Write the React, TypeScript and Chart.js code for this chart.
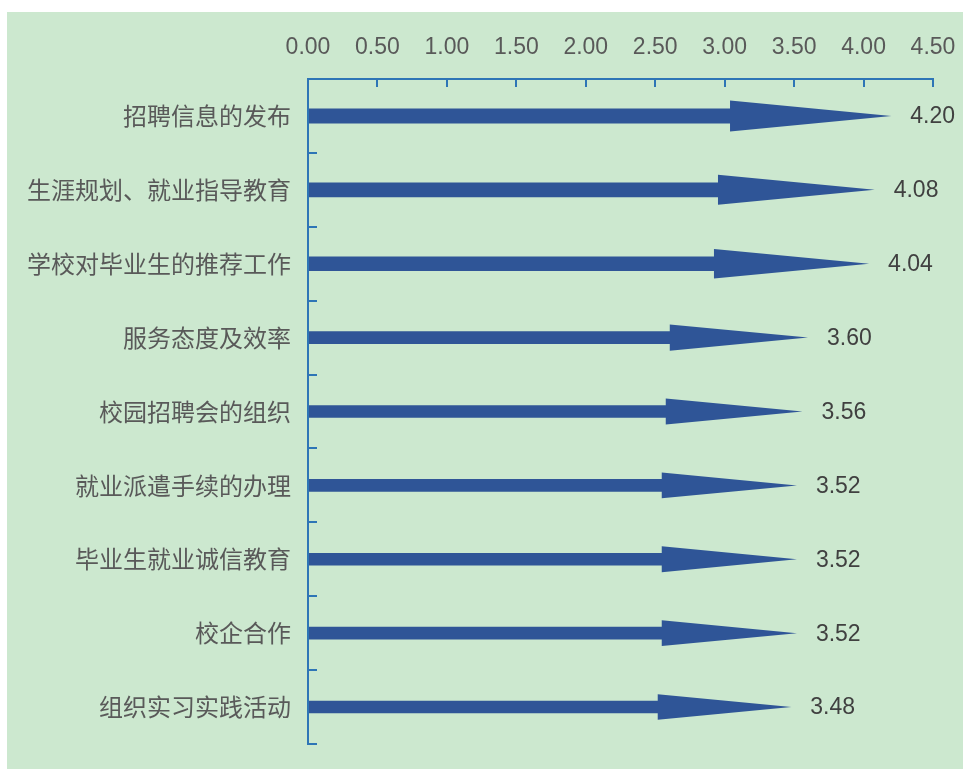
import React, { useEffect, useRef } from "react";
import { Chart, registerables } from "chart.js";

Chart.register(...registerables);

const categories: string[] = [
  "招聘信息的发布",
  "生涯规划、就业指导教育",
  "学校对毕业生的推荐工作",
  "服务态度及效率",
  "校园招聘会的组织",
  "就业派遣手续的办理",
  "毕业生就业诚信教育",
  "校企合作",
  "组织实习实践活动",
];
const scores: number[] = [4.2, 4.08, 4.04, 3.6, 3.56, 3.52, 3.52, 3.52, 3.48];
const xMin = 0;
const xMax = 4.5;
const xStep = 0.5;

const ARROW = "#2f5597";
const AXIS = "#2e75b6";
const BG = "#cce8cf";

const arrowPlugin = {
  id: "arrows",
  afterDatasetsDraw(chart: any) {
    const ctx = chart.ctx;
    const meta = chart.getDatasetMeta(0);
    ctx.save();
    meta.data.forEach((el: any, i: number) => {
      const { x, y, base } = el.getProps(["x", "y", "base"], true);
      const L = x - base;
      const shaft = 0.0258 * L;
      const headH = 0.053 * L;
      const headL = 0.277 * L;
      const hx = x - headL;
      ctx.fillStyle = ARROW;
      ctx.beginPath();
      ctx.moveTo(base, y - shaft / 2);
      ctx.lineTo(hx, y - shaft / 2);
      ctx.lineTo(hx, y - headH / 2);
      ctx.lineTo(x, y);
      ctx.lineTo(hx, y + headH / 2);
      ctx.lineTo(hx, y + shaft / 2);
      ctx.lineTo(base, y + shaft / 2);
      ctx.closePath();
      ctx.fill();
      ctx.fillStyle = "#404040";
      ctx.font = '23px "Liberation Sans", Arial, sans-serif';
      ctx.textAlign = "left";
      ctx.textBaseline = "middle";
      ctx.fillText(scores[i].toFixed(2), x + 19, y + 1);
    });
    ctx.restore();
  },
};

export default function App() {
  const ref = useRef<HTMLCanvasElement | null>(null);
  useEffect(() => {
    if (!ref.current) return;
    const chart = new Chart(ref.current, {
      type: "bar",
      data: {
        labels: categories,
        datasets: [
          {
            data: scores,
            backgroundColor: "rgba(0,0,0,0)",
            borderWidth: 0,
          },
        ],
      },
      plugins: [arrowPlugin],
      options: {
        indexAxis: "y",
        responsive: false,
        animation: false,
        events: [],
        layout: { padding: { left: 0, top: 0, right: 30, bottom: 25 } },
        plugins: {
          legend: { display: false },
          tooltip: { enabled: false },
          title: { display: false },
        },
        scales: {
          x: {
            position: "top",
            min: xMin,
            max: xMax,
            afterFit: (s: any) => {
              s.height = 67;
              s.paddingLeft = 0;
              s.paddingRight = 0;
              s.paddingTop = 0;
              s.paddingBottom = 0;
            },
            ticks: {
              stepSize: xStep,
              padding: 26,
              color: "#595959",
              font: { family: '"Liberation Sans", Arial, sans-serif', size: 23 },
              callback: (v: any) => Number(v).toFixed(2),
            },
            grid: {
              drawOnChartArea: false,
              drawTicks: true,
              tickLength: -8,
              color: AXIS,
              lineWidth: 2,
            },
            border: { display: true, color: AXIS, width: 2 },
          },
          y: {
            afterFit: (s: any) => {
              s.width = 301;
              s.paddingLeft = 0;
              s.paddingRight = 0;
              s.paddingTop = 0;
              s.paddingBottom = 0;
            },
            ticks: {
              padding: 26,
              color: "#595959",
              font: { family: '"Noto Sans CJK SC", sans-serif', size: 24 },
            },
            grid: {
              drawOnChartArea: false,
              drawTicks: true,
              tickLength: -9,
              color: AXIS,
              lineWidth: 2,
            },
            border: { display: true, color: AXIS, width: 2 },
          },
        },
      } as any,
    });
    return () => chart.destroy();
  }, []);
  return (
    <div
      style={{
        position: "fixed",
        left: 7,
        top: 12,
        width: 956,
        height: 757,
        background: BG,
      }}
    >
      <canvas ref={ref} width={956} height={757} style={{ display: "block" }} />
    </div>
  );
}
